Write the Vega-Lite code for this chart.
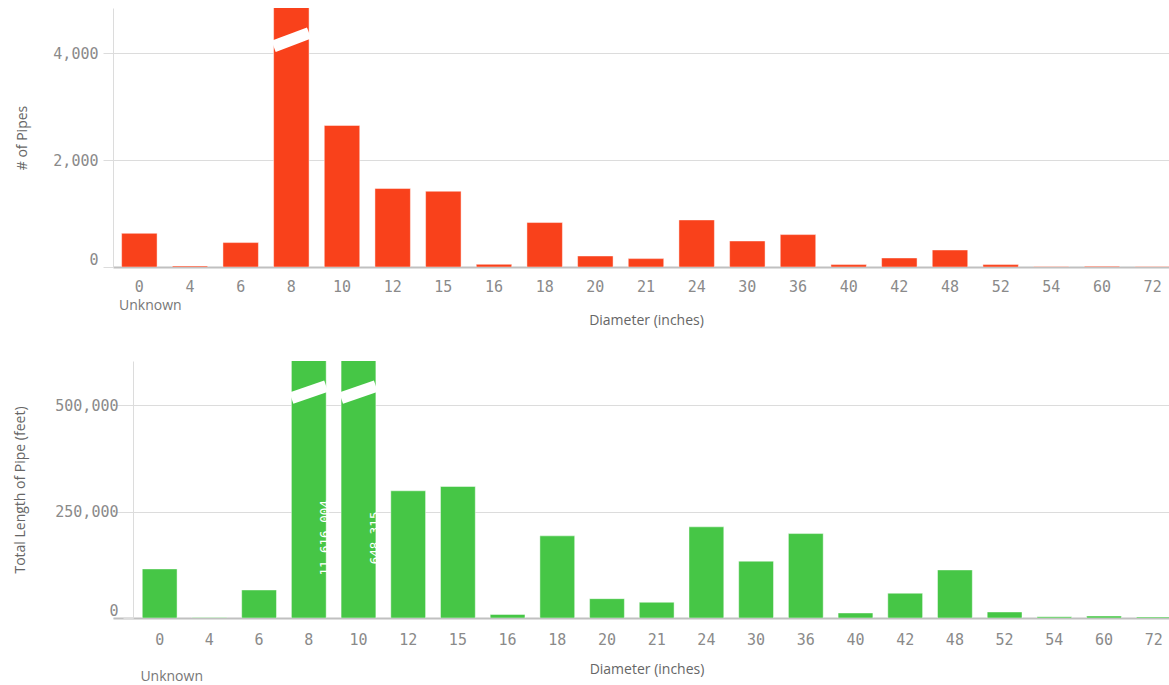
{
  "$schema": "https://vega.github.io/schema/vega-lite/v6.json",
  "background": "white",
  "padding": {"left": 13, "top": 8, "right": 0, "bottom": 0},
  "datasets": {
    "pipes": [
      {"d": "0", "n": 630, "len": 115200},
      {"d": "4", "n": 20, "len": 1000},
      {"d": "6", "n": 457, "len": 65800},
      {"d": "8", "n": 58000, "len": 11616004},
      {"d": "10", "n": 2650, "len": 648315},
      {"d": "12", "n": 1469, "len": 298600},
      {"d": "15", "n": 1418, "len": 308700},
      {"d": "16", "n": 50, "len": 8300},
      {"d": "18", "n": 832, "len": 192800},
      {"d": "20", "n": 206, "len": 45400},
      {"d": "21", "n": 157, "len": 36900},
      {"d": "24", "n": 881, "len": 214000},
      {"d": "30", "n": 487, "len": 133300},
      {"d": "36", "n": 607, "len": 198200},
      {"d": "40", "n": 45, "len": 11800},
      {"d": "42", "n": 169, "len": 58100},
      {"d": "48", "n": 318, "len": 112800},
      {"d": "52", "n": 45, "len": 14100},
      {"d": "54", "n": 10, "len": 3000},
      {"d": "60", "n": 15, "len": 4700},
      {"d": "72", "n": 10, "len": 2500}
    ],
    "breakTop": [{"d": "8", "lo": 4131, "hi": 4381}],
    "breakBottom": [
      {"d": "8", "lo": 516000, "hi": 544300},
      {"d": "10", "lo": 516000, "hi": 544300}
    ]
  },
  "config": {
    "view": {"stroke": null},
    "axis": {
      "labelFont": "DejaVu Sans Mono",
      "labelFontSize": 15,
      "labelColor": "#8a8a8a",
      "titleFont": "Open Sans",
      "titleFontSize": 14,
      "titleFontWeight": "normal",
      "titleColor": "#666666",
      "gridColor": "#dcdcdc",
      "tickColor": "#dcdcdc",
      "domainColor": "#dcdcdc"
    }
  },
  "concat": [
    {
      "width": 1066,
      "height": 259,
      "resolve": {"axis": {"x": "independent"}},
      "layer": [
        {
          "data": {"name": "pipes"},
          "mark": {"type": "bar", "color": "#f9411b", "stroke": "#ffffff", "strokeOpacity": 0.45, "strokeWidth": 1, "clip": true},
          "encoding": {
            "x": {
              "field": "d", "type": "ordinal",
              "scale": {"domain": ["0","4","6","8","10","12","15","16","18","20","21","24","30","36","40","42","48","52","54","60","72"], "paddingInner": 0.3, "paddingOuter": 0.17},
              "axis": {"title": "Diameter (inches)", "labelAngle": 0, "labelPadding": 12, "ticks": false, "tickSize": 0, "grid": false, "domainColor": "#c0c0c0", "domainWidth": 2, "titlePadding": 19}
            },
            "y": {
              "field": "n", "type": "quantitative",
              "scale": {"domain": [0, 4849], "nice": false, "zero": true},
              "axis": {"title": "# of Pipes", "values": [0, 2000, 4000], "labelExpr": "format(datum.value, ',')", "labelFlush": true, "tickSize": 10, "labelPadding": 5, "titlePadding": 23, "grid": true}
            }
          }
        },
        {
          "data": {"name": "breakTop"},
          "mark": {"type": "rule", "color": "#ffffff", "strokeWidth": 12, "clip": true},
          "encoding": {
            "x": {
              "field": "d", "type": "ordinal", "bandPosition": 0,
              "scale": {"domain": ["0","4","6","8","10","12","15","16","18","20","21","24","30","36","40","42","48","52","54","60","72"]},
              "axis": {"orient": "bottom", "title": null, "domain": false, "ticks": false, "tickSize": 0, "grid": false, "labelAngle": 0, "labelExpr": "datum.value == '0' ? 'Unknown' : ''", "labelFont": "Open Sans", "labelFontSize": 14, "labelColor": "#777777", "labelPadding": 31, "labelOffset": 11}
            },
            "x2": {"field": "d", "bandPosition": 1},
            "y": {
              "field": "lo", "type": "quantitative",
              "axis": {"title": "# of Pipes", "values": [0, 2000, 4000], "labelExpr": "format(datum.value, ',')", "labelFlush": true, "tickSize": 10, "labelPadding": 5, "titlePadding": 23, "grid": true}
            },
            "y2": {"field": "hi"}
          }
        }
      ]
    },
    {
      "width": 1067,
      "height": 257,
      "resolve": {"axis": {"x": "independent"}},
      "layer": [
        {
          "data": {"name": "pipes"},
          "mark": {"type": "bar", "color": "#46c646", "stroke": "#ffffff", "strokeOpacity": 0.45, "strokeWidth": 1, "clip": true},
          "encoding": {
            "x": {
              "field": "d", "type": "ordinal",
              "scale": {"domain": ["0","4","6","8","10","12","15","16","18","20","21","24","30","36","40","42","48","52","54","60","72"], "paddingInner": 0.3, "paddingOuter": 0.384, "align": 0.767},
              "axis": {"title": "Diameter (inches)", "labelAngle": 0, "labelPadding": 14, "ticks": false, "tickSize": 0, "grid": false, "domainColor": "#c0c0c0", "domainWidth": 2, "titlePadding": 15}
            },
            "y": {
              "field": "len", "type": "quantitative",
              "scale": {"domain": [0, 603300], "nice": false, "zero": true},
              "axis": {"title": "Total Length of Pipe (feet)", "offset": -20, "values": [0, 250000, 500000], "labelExpr": "format(datum.value, ',')", "labelFlush": true, "tickSize": 10, "labelPadding": 5, "titlePadding": 27, "grid": true}
            }
          }
        },
        {
          "data": {"name": "breakBottom"},
          "mark": {"type": "rule", "color": "#ffffff", "strokeWidth": 12, "clip": true},
          "encoding": {
            "x": {
              "field": "d", "type": "ordinal", "bandPosition": 0,
              "scale": {"domain": ["0","4","6","8","10","12","15","16","18","20","21","24","30","36","40","42","48","52","54","60","72"]},
              "axis": {"orient": "bottom", "title": null, "domain": false, "ticks": false, "tickSize": 0, "grid": false, "labelAngle": 0, "labelExpr": "datum.value == '0' ? 'Unknown' : ''", "labelFont": "Open Sans", "labelFontSize": 14, "labelColor": "#777777", "labelPadding": 51, "labelOffset": 12}
            },
            "x2": {"field": "d", "bandPosition": 1},
            "y": {
              "field": "lo", "type": "quantitative",
              "axis": {"title": "Total Length of Pipe (feet)", "offset": -20, "values": [0, 250000, 500000], "labelExpr": "format(datum.value, ',')", "labelFlush": true, "tickSize": 10, "labelPadding": 5, "titlePadding": 27, "grid": true}
            },
            "y2": {"field": "hi"}
          }
        },
        {
          "data": {"name": "pipes"},
          "transform": [{"filter": "datum.len > 603300"}],
          "mark": {"type": "text", "angle": 270, "color": "#ffffff", "font": "DejaVu Sans Mono", "fontSize": 12.5, "align": "center", "baseline": "middle", "dy": 16.5, "clip": true},
          "encoding": {
            "x": {"field": "d", "type": "ordinal", "axis": null},
            "y": {
              "datum": 188000, "type": "quantitative",
              "axis": {"title": "Total Length of Pipe (feet)", "offset": -20, "values": [0, 250000, 500000], "labelExpr": "format(datum.value, ',')", "labelFlush": true, "tickSize": 10, "labelPadding": 5, "titlePadding": 27, "grid": true}
            },
            "text": {"field": "len", "type": "quantitative", "format": ","}
          }
        }
      ]
    }
  ],
  "columns": 1,
  "align": "none",
  "spacing": 34
}
